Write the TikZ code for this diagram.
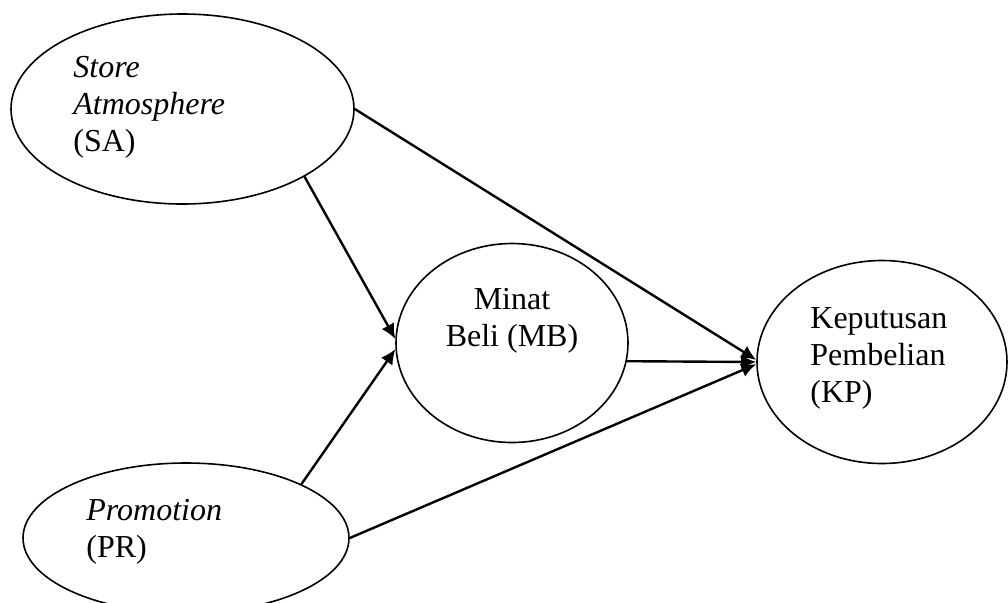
\documentclass[tikz,border=0pt]{standalone}
\usepackage{fontspec}
\setmainfont{Liberation Serif}
\usetikzlibrary{shapes.geometric,arrows.meta}

\begin{document}
\begin{tikzpicture}[x=0.5pt, y=-0.5pt,
    var/.style={draw, ellipse, line width=0.8pt, inner sep=0pt},
    txt/.style={inner sep=0pt, font=\fontsize{16}{18.6}\selectfont},
    link/.style={line width=1.2pt, -{Latex[length=7.5pt,width=7pt]}}]
    \useasboundingbox (0,0) rectangle (1008,602);

    % Variables (ellipses)
    \node[var, minimum width=171.5pt, minimum height=95pt] (sa) at (182.5,109) {};
    \node[var, minimum width=116pt, minimum height=99.5pt] (mb) at (512,343) {};
    \node[var, minimum width=125pt, minimum height=101.5pt] (kp) at (882,362) {};
    \node[var, minimum width=163pt, minimum height=75pt] (pr) at (186,538) {};

    % Labels inside the ellipses
    \node[txt, anchor=north west, align=left] (satext) at (73,56) {\textit{Store}\\\textit{Atmosphere}\\(SA)};
    \node[txt, anchor=north, align=center] (mbtext) at (512,288) {Minat\\Beli (MB)};
    \node[txt, anchor=north west, align=left] (kptext) at (810,307) {Keputusan\\Pembelian\\(KP)};
    \node[txt, anchor=north west, align=left] (prtext) at (86,499) {\textit{Promotion}\\(PR)};

    % Paths
    \foreach \a/\b in {sa.-29/mb.178, pr.25/mb.183, sa.east/kp.179, mb.-9/kp.west, pr.east/kp.181}{
        \draw[link] (\a) -- (\b);
    }
\end{tikzpicture}
\end{document}
